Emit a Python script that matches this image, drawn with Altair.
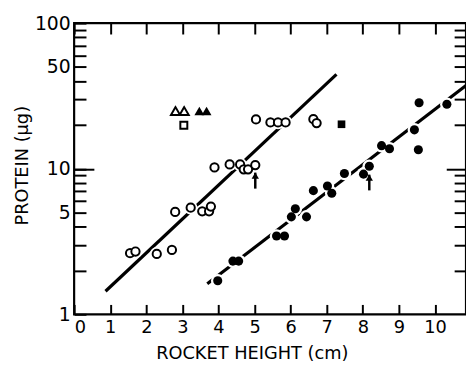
import altair as alt
import pandas as pd

# ---- data ----
open_x = [1.55, 1.70, 2.29, 2.71, 2.80, 3.23, 3.55, 3.74, 3.79, 3.89, 4.31, 4.60, 4.70, 4.82,
          5.02, 5.04, 5.44, 5.65, 5.86, 6.63, 6.72]
open_y = [2.63, 2.70, 2.60, 2.77, 5.05, 5.40, 5.10, 5.10, 5.50, 10.2, 10.7, 10.7, 9.9, 9.9,
          10.6, 21.8, 20.8, 20.8, 20.8, 21.9, 20.6]
filled_x = [3.98, 4.40, 4.56, 5.61, 5.83, 6.02, 6.13, 6.44, 6.63, 7.02, 7.14, 7.49, 8.02, 8.18,
            8.52, 8.74, 9.43, 9.56, 9.54, 10.33]
filled_y = [1.70, 2.32, 2.32, 3.45, 3.45, 4.67, 5.31, 4.67, 7.07, 7.61, 6.79, 9.28, 9.18, 10.4,
            14.4, 13.7, 18.5, 28.4, 13.5, 27.7]
open_tri_x = [2.81, 3.05]
open_tri_y = [24.9, 24.9]
filled_tri_x = [3.47, 3.67]
filled_tri_y = [24.9, 24.9]
open_sq_x = [3.04]
open_sq_y = [19.9]
filled_sq_x = [7.41]
filled_sq_y = [20.2]
line1_x = [0.87, 7.27]
line1_y = [1.44, 44.4]
line2_x = [3.69, 10.86]
line2_y = [1.62, 37.3]
arrow_x = [5.02, 8.18]
arrow_tip = [9.4, 9.1]
arrow_tail = [7.3, 7.1]

x_ticks = list(range(0, 11))
y_labels = [1, 5, 10, 50, 100]
y_minor = [2, 3, 4, 5, 6, 7, 8, 9, 20, 30, 40, 50, 60, 70, 80, 90]
y_major = [10]
y_all_ticks = [1, 2, 3, 4, 5, 6, 7, 8, 9, 10, 20, 30, 40, 50, 60, 70, 80, 90, 100]

X_MIN, X_MAX = 0, 10.86
Y_MIN, Y_MAX = 1, 100
W, H = 397, 295
FONT = "DejaVu Sans"

xs = alt.Scale(domain=[X_MIN, X_MAX], nice=False, zero=False)
ys = alt.Scale(type="log", domain=[Y_MIN, Y_MAX], nice=False)


def pts(xv, yv):
    return pd.DataFrame({"x": xv, "y": yv})


def X(**kw):
    return alt.X("x:Q", scale=xs, axis=None, **kw)


def Y(**kw):
    return alt.Y("y:Q", scale=ys, axis=None, **kw)


open_df = pts(open_x, open_y)
filled_df = pts(filled_x, filled_y)

label_test = "indexof([" + ",".join(str(v) for v in y_labels) + "], datum.value) >= 0"

# axes pulled inside the frame by a negative offset so their ticks point inward;
# zindex=1 draws them above the plot background
x_axis = alt.Axis(values=x_ticks, grid=False, domain=False, ticks=True, tickSize=10, offset=-10,
                  tickWidth=2, tickColor="black", zindex=1,
                  labelOverlap=False,
                  labelFontSize=18, labelFont=FONT, labelColor="black", labelPadding=4,
                  title="ROCKET HEIGHT (cm)", titleFont=FONT, titleFontSize=18,
                  titleFontWeight="normal", titleColor="black", titleX=180, titleY=55,
                  titleAnchor="middle", titleAlign="center", titleBaseline="alphabetic")
y_axis = alt.Axis(values=y_all_ticks, grid=False, domain=False, ticks=True, tickSize=12, offset=-12,
                  tickWidth=2, tickColor="black", zindex=1,
                  labelOverlap=False, labelExpr=label_test + " ? datum.label : ''",
                  labelFontSize=19, labelFont=FONT, labelColor="black", labelPadding=4,
                  format="d",
                  title="PROTEIN (µg)", titleFont=FONT, titleFontSize=18,
                  titleFontWeight="normal", titleColor="black", titleX=-59, titleY=144,
                  titleAngle=270, titleAlign="center", titleBaseline="alphabetic")

base = alt.Chart(pd.DataFrame({"x": [0.0], "y": [1.0]})).mark_point(opacity=0).encode(
    x=alt.X("x:Q", scale=xs, axis=x_axis),
    y=alt.Y("y:Q", scale=ys, axis=y_axis),
)


# tick-only axes for the top, right and the long tick at 10
def tick_axis(values, orient, length):
    return alt.Axis(values=values, orient=orient, tickSize=length, offset=-length, tickWidth=2,
                    tickColor="black", labels=False, domain=False, grid=False, title=None, zindex=1)


def x_tick_layer(orient, length):
    return alt.Chart(pd.DataFrame({"x": x_ticks})).mark_point(opacity=0).encode(
        x=alt.X("x:Q", scale=xs, axis=tick_axis(x_ticks, orient, length)))


def y_tick_layer(values, orient, length):
    return alt.Chart(pd.DataFrame({"y": values})).mark_point(opacity=0).encode(
        y=alt.Y("y:Q", scale=ys, axis=tick_axis(values, orient, length)))


top_ticks = x_tick_layer("top", 11)
left_major = y_tick_layer(y_major, "left", 20)
right_minor = y_tick_layer(y_minor, "right", 12)
right_major = y_tick_layer(y_major, "right", 20)

# regression lines
l1 = alt.Chart(pts(line1_x, line1_y)).mark_line(color="black", strokeWidth=3.2).encode(x=X(), y=Y())
l2 = alt.Chart(pts(line2_x, line2_y)).mark_line(color="black", strokeWidth=3.2).encode(x=X(), y=Y())

# white halos breaking the lines around points
halo_df = pd.concat([open_df, filled_df])
halo = alt.Chart(halo_df).mark_point(shape="circle", filled=True, color="white", opacity=1, size=190).encode(
    x=X(), y=Y())

open_pts = alt.Chart(open_df).mark_point(shape="circle", filled=False, color="black", strokeWidth=2,
                                          size=70, opacity=1, fill="white", fillOpacity=1).encode(x=X(), y=Y())
filled_pts = alt.Chart(filled_df).mark_point(shape="circle", filled=True, color="black", size=85,
                                              opacity=1).encode(x=X(), y=Y())
open_tri = alt.Chart(pts(open_tri_x, open_tri_y)).mark_point(shape="triangle-up", filled=False, color="black",
                                                               strokeWidth=2, size=85, opacity=1).encode(x=X(), y=Y())
filled_tri = alt.Chart(pts(filled_tri_x, filled_tri_y)).mark_point(shape="triangle-up", filled=True,
                                                                     color="black", size=100, opacity=1).encode(x=X(), y=Y())
open_sq = alt.Chart(pts(open_sq_x, open_sq_y)).mark_point(shape="square", filled=False, color="black",
                                                            strokeWidth=2, size=50, opacity=1).encode(x=X(), y=Y())
filled_sq = alt.Chart(pts(filled_sq_x, filled_sq_y)).mark_point(shape="square", filled=True, color="black",
                                                                  size=60, opacity=1).encode(x=X(), y=Y())

arrow_df = pd.DataFrame({"x": arrow_x, "y": arrow_tail, "y2": arrow_tip})
arrow_shaft = alt.Chart(arrow_df).mark_rule(color="black", strokeWidth=2.5).encode(
    x=X(), y=alt.Y("y:Q", scale=ys, axis=None), y2="y2:Q")
arrow_head = alt.Chart(arrow_df).mark_point(shape="triangle-up", filled=True, color="black", size=55,
                                            opacity=1, yOffset=3).encode(
    x=X(), y=alt.Y("y2:Q", scale=ys, axis=None))

chart = alt.layer(
    base, top_ticks, left_major, right_minor, right_major,
    l1, l2, halo, open_pts, filled_pts, open_tri, filled_tri, open_sq, filled_sq,
    arrow_shaft, arrow_head,
).resolve_axis(x="independent", y="independent").properties(
    width=W, height=H,
    autosize=alt.AutoSizeParams(type="none"),
    padding={"left": 67, "top": 13, "right": 0, "bottom": 48},
    background="white",
).configure_view(stroke="black", strokeWidth=2.2)

chart.save("out.html", embed_options={"renderer": "svg", "actions": False})
